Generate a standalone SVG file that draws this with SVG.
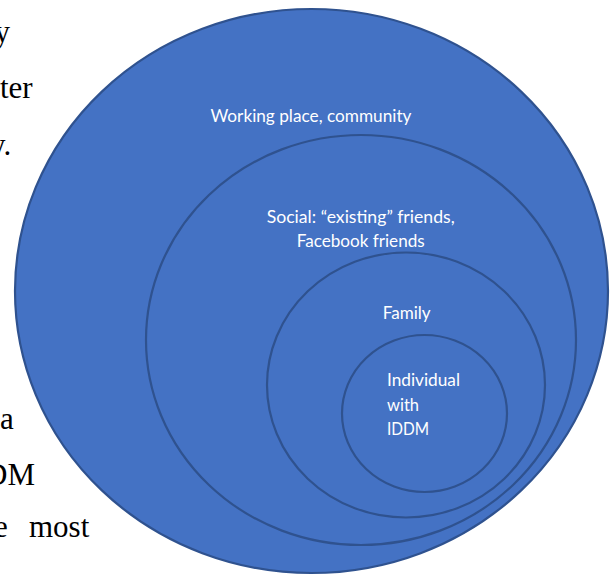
<svg xmlns="http://www.w3.org/2000/svg" width="611" height="576" viewBox="0 0 611 576">
  <style>
    .bg { font-family: "Liberation Serif", "Times New Roman", serif; font-size: 31px; fill: #000000; }
    .ring { fill: #4472C4; stroke: #2F528F; stroke-width: 2.2; }
    .lbl { font-family: Lato, "Open Sans", "Liberation Sans", sans-serif; font-size: 17px; fill: #FFFFFF; }
  </style>
  <rect x="0" y="0" width="611" height="576" fill="#FFFFFF"/>
  <g id="page-text">
    <text class="bg" x="-5.5" y="42">y</text>
    <text class="bg" x="0" y="98">ter</text>
    <text class="bg" x="-10" y="155">y.</text>
    <text class="bg" x="0" y="429">a</text>
    <text class="bg" x="-15" y="485">DM</text>
    <text class="bg" x="-6" y="537">e</text>
    <text class="bg" x="29" y="537">most</text>
  </g>
  <g id="connectors"/>
  <g id="node-community">
    <ellipse class="ring" cx="311.5" cy="291" rx="296.5" ry="282"/>
    <text class="lbl" x="210.5" y="122" textLength="201" lengthAdjust="spacingAndGlyphs">Working place, community</text>
  </g>
  <g id="node-social">
    <ellipse class="ring" cx="361" cy="340" rx="215" ry="205"/>
    <text class="lbl" x="266.7" y="222.5" textLength="188" lengthAdjust="spacingAndGlyphs">Social: “existing” friends,</text>
    <text class="lbl" x="296.7" y="246.5" textLength="128" lengthAdjust="spacingAndGlyphs">Facebook friends</text>
  </g>
  <g id="node-family">
    <ellipse class="ring" cx="406" cy="385" rx="139" ry="132.5"/>
    <text class="lbl" x="382.7" y="319" textLength="48" lengthAdjust="spacingAndGlyphs">Family</text>
  </g>
  <g id="node-individual">
    <ellipse class="ring" cx="424.5" cy="413.5" rx="82.5" ry="78.5"/>
    <text class="lbl" x="387" y="386" textLength="73" lengthAdjust="spacingAndGlyphs">Individual</text>
    <text class="lbl" x="387" y="410.5" textLength="32" lengthAdjust="spacingAndGlyphs">with</text>
    <text class="lbl" x="387" y="435" textLength="42" lengthAdjust="spacingAndGlyphs">IDDM</text>
  </g>
</svg>
